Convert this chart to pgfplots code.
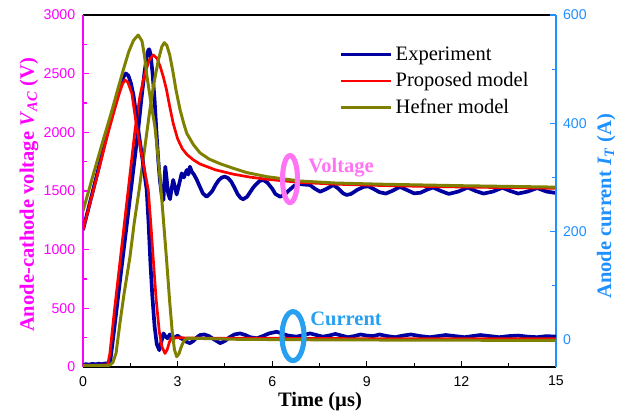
\documentclass[border=0pt]{standalone}
\usepackage{pgfplots}
\pgfplotsset{compat=1.18}
\usepackage{fontspec}
\setmainfont{Liberation Serif}
\setsansfont{Liberation Sans}

\definecolor{vmag}{RGB}{255,0,255}
\definecolor{iblue}{RGB}{30,144,255}
\definecolor{expblue}{RGB}{0,0,160}
\definecolor{hefner}{RGB}{128,128,0}
\definecolor{vpink}{RGB}{255,115,245}
\definecolor{ilight}{RGB}{40,160,240}

\pgfplotsset{
  common/.style={width=334.06pt, height=248.6pt, scale only axis, xmin=0, xmax=15,
    tick align=inside, major tick length=4pt, minor tick length=2.5pt,
    tick label style={font=\sffamily\fontsize{10}{12}\selectfont},
    /pgf/number format/assume math mode=true,
    /pgf/number format/set thousands separator={},
    label style={font=\bfseries\fontsize{14.5}{17}\selectfont},
  },
  expe/.style={expblue, line width=2.6pt, line join=round},
  prop/.style={red, line width=1.9pt, line join=round},
  hef/.style={hefner, line width=2.1pt, line join=round},
}

\begin{document}
\begin{tikzpicture}
\path[use as bounding box] (-58.62pt,-34.61pt) rectangle (381.38pt,259.19pt);

% voltage, left axis
\begin{axis}[common,
  axis x line*=box, axis y line*=left,
  x axis line style={-, black, line width=0.9pt},
  y axis line style={-, vmag, line width=0.9pt},
  xtick={0,3,...,15}, minor x tick num=1, xtick pos=left,
  x tick style={black, line width=0.8pt},
  xticklabel style={yshift=-3pt},
  ymin=0, ymax=3000, ytick={0,500,...,3000}, minor y tick num=1,
  y tick style={vmag, line width=0.8pt},
  yticklabel style={text=vmag, xshift=-2pt},
  xlabel={Time (µs)},
  xlabel style={at={(axis description cs:0.501,-0.097)}, anchor=center},
  ylabel={Anode-cathode voltage \textit{V}\textsubscript{\textit{AC}} (V)},
  ylabel style={at={(axis description cs:-0.114,0.489)}, anchor=center, text=vmag},
  legend style={at={(axis description cs:0.533,0.927)}, anchor=north west,
    draw=none, fill=none, row sep=3.3pt, font=\fontsize{14.5}{17}\selectfont},
  legend cell align=left,
  legend image code/.code={\draw[#1] (0pt,0pt) -- (35pt,0pt);},
]
\addplot[expe] coordinates {
(0,18)(0.1,24)(0.2,20)(0.3,27)(0.4,22)(0.5,28)(0.6,24)(0.7,30)(0.8,28)(0.86,40)
(0.93,190)(1.0,345)(1.2,795)(1.4,1240)(1.6,1690)(1.75,2020)(1.85,2280)(1.95,2510)
(2.02,2640)(2.07,2700)(2.10,2708)(2.14,2670)(2.2,2520)(2.27,2280)(2.33,2000)
(2.39,1750)(2.44,1590)(2.5,1460)(2.55,1423)(2.58,1560)(2.61,1707)(2.65,1610)
(2.7,1480)(2.76,1430)(2.81,1520)(2.86,1594)(2.92,1530)(2.97,1470)(3.05,1560)
(3.13,1650)(3.2,1615)(3.29,1679)(3.34,1640)(3.39,1707)(3.45,1665)(3.52,1640)
(3.6,1600)(3.7,1540)(3.8,1480)(3.92,1451)(4.0,1470)(4.1,1500)(4.2,1550)(4.3,1590)
(4.4,1615)(4.5,1622)(4.6,1610)(4.7,1580)(4.8,1530)(4.9,1475)(5.0,1440)(5.08,1430)
(5.2,1450)(5.3,1490)(5.4,1530)(5.5,1560)(5.6,1585)(5.72,1594)(5.85,1570)(6.0,1520)
(6.1,1475)(6.25,1451)(6.4,1470)(6.55,1510)(6.7,1545)(6.85,1560)(7.0,1555)(7.2,1551)
(7.35,1520)(7.52,1494)(7.7,1515)(7.94,1551)(8.1,1520)(8.25,1480)(8.36,1466)
(8.5,1475)(8.7,1510)(8.9,1535)(9.05,1540)(9.2,1520)(9.4,1490)(9.6,1478)(9.8,1500)
(10.05,1535)(10.3,1505)(10.5,1480)(10.7,1485)(10.9,1510)(11.1,1530)(11.35,1500)
(11.6,1475)(11.9,1495)(12.2,1530)(12.45,1500)(12.7,1478)(13.0,1495)(13.3,1528)
(13.55,1500)(13.8,1478)(14.1,1495)(14.4,1525)(14.7,1495)(15.0,1483)};
\addlegendentry{Experiment}
\addplot[prop] coordinates {
(0,15)(0.5,15)(0.78,18)(0.85,110)(1.0,490)(1.2,960)(1.4,1430)(1.65,2020)(1.8,2300)
(1.95,2490)(2.1,2615)(2.23,2659)(2.35,2630)(2.45,2560)(2.55,2470)(2.65,2361)
(2.75,2220)(2.86,2077)(3.0,1945)(3.15,1860)(3.3,1810)(3.5,1765)(3.71,1730)
(4.2,1680)(4.77,1643)(5.3,1618)(5.83,1600)(6.88,1573)(8,1558)(9.42,1547)
(11,1538)(13,1530)(15,1523)};
\addlegendentry{Proposed model}
\addplot[hef] coordinates {
(0,12)(0.6,12)(0.85,15)(0.95,40)(1.05,120)(1.17,372)(1.3,620)(1.49,940)(1.62,1220)
(1.78,1509)(1.95,1850)(2.12,2190)(2.25,2420)(2.39,2616)(2.5,2730)(2.58,2764)
(2.66,2740)(2.75,2660)(2.85,2520)(2.95,2360)(3.08,2190)(3.2,2070)(3.29,1992)
(3.5,1895)(3.71,1825)(4.0,1772)(4.35,1732)(4.77,1693)(5.19,1657)(5.83,1622)
(6.88,1585)(8,1568)(9.42,1558)(12,1545)(15,1533)};
\addlegendentry{Hefner model}
\end{axis}

% current, right axis
\begin{axis}[common,
  axis x line=none, axis y line*=right,
  y axis line style={-, iblue, line width=0.9pt},
  ymin=-50, ymax=600, ytick={0,200,400,600}, minor y tick num=1,
  y tick style={iblue, line width=0.8pt},
  yticklabel style={text=iblue, xshift=1.5pt},
  ylabel={Anode current \textit{I}\textsubscript{\textit{T}} (A)},
  ylabel style={at={(axis description cs:1.106,0.457)}, anchor=center, text=iblue},
]
\addplot[expe] coordinates {
(0,203)(0.1,226)(0.2,249)(0.3,272)(0.4,295)(0.5,318)(0.6,343)(0.7,367)(0.8,390)
(0.9,412)(1.0,432)(1.1,455)(1.2,472)(1.28,485)(1.36,492)(1.44,488)(1.52,474)
(1.6,452)(1.7,410)(1.81,364)(1.92,320)(2.02,277)(2.08,215)(2.14,140)(2.2,80)
(2.27,25)(2.34,-8)(2.42,-19)(2.48,-5)(2.55,12)(2.62,6)(2.68,3)(2.75,10)(2.82,7)
(2.9,4)(3.0,8)(3.1,3)(3.2,0)(3.3,-4)(3.39,-6)(3.5,-2)(3.6,4)(3.71,9)(3.85,10)
(4.0,7)(4.15,1)(4.35,-6)(4.5,-2)(4.65,5)(4.8,10)(4.98,12)(5.15,9)(5.3,5)(5.51,3)
(5.7,7)(5.9,12)(6.14,15)(6.3,12)(6.5,8)(6.77,6)(7.0,9)(7.2,12)(7.4,9)(7.6,6)
(7.8,8)(8.0,11)(8.2,8)(8.4,5)(8.6,7)(8.8,10)(9.0,8)(9.2,7)(9.4,10)(9.65,7)(9.9,5)
(10.15,8)(10.4,10)(10.7,7)(11.0,5)(11.25,7)(11.5,9)(11.8,7)(12.1,5)(12.35,7)
(12.6,9)(12.9,7)(13.2,5)(13.5,7)(13.8,8)(14.1,6)(14.4,5)(14.7,7)(15,6)};
\addplot[prop] coordinates {
(0,203)(0.4,292)(0.8,383)(1.0,425)(1.15,455)(1.25,472)(1.33,480)(1.42,476)
(1.55,455)(1.7,394)(1.91,326)(2.07,277)(2.15,215)(2.23,148)(2.32,75)(2.42,15)
(2.5,-12)(2.6,-25)(2.67,-18)(2.74,-4)(2.8,3)(3.0,4)(4,3)(6,3)(10,2)(15,2)};
\addplot[hef] coordinates {
(0,238)(0.3,300)(0.64,369)(0.9,420)(1.1,462)(1.3,503)(1.45,532)(1.6,553)(1.75,563)
(1.87,552)(1.95,525)(2.02,490)(2.15,440)(2.28,394)(2.36,350)(2.44,301)(2.55,222)
(2.65,148)(2.75,70)(2.83,15)(2.9,-18)(2.97,-31)(3.04,-26)(3.12,-12)(3.2,-2)
(3.3,3)(3.5,3)(5,1)(8,0)(15,-1)};
% annotations
\draw[vpink, line width=3.6pt] (axis cs:6.565,297) ellipse [x radius=5.3pt, y radius=16.6pt];
\node[anchor=base west, inner sep=0pt, text=vpink, font=\bfseries\fontsize{14.5}{17}\selectfont] at (axis cs:7.14,310) {Voltage};
\draw[ilight, line width=3.6pt] (axis cs:6.66,7) ellipse [x radius=7.8pt, y radius=17.3pt];
\node[anchor=base west, inner sep=0pt, text=ilight, font=\bfseries\fontsize{14.5}{17}\selectfont] at (axis cs:7.2,27.5) {Current};
\end{axis}
\end{tikzpicture}
\end{document}
